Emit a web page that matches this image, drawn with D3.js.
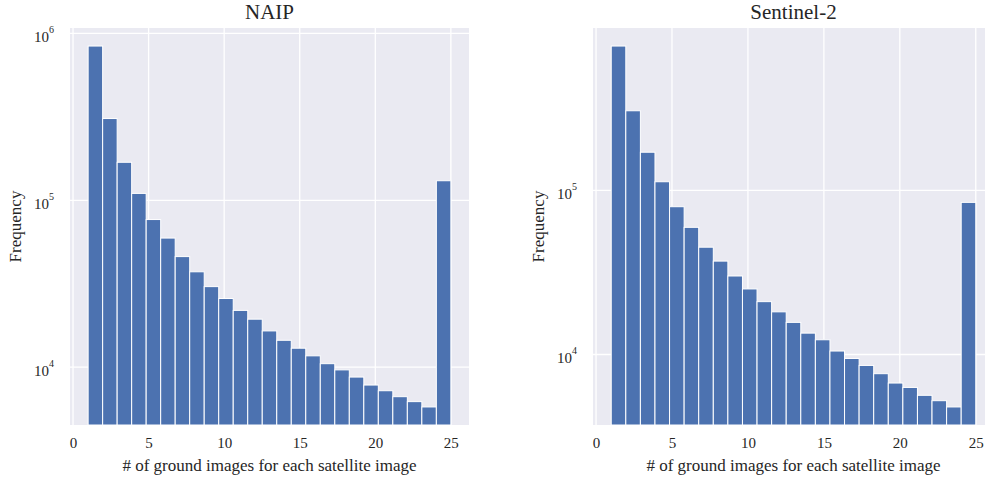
<!DOCTYPE html>
<html>
<head>
<meta charset="utf-8">
<title>Histogram</title>
<script src="https://cdn.jsdelivr.net/npm/d3@7"></script>
<style>
  body { margin: 0; background: #ffffff; }
  svg { display: block; overflow: hidden; }
  text { font-family: "Liberation Serif", "Times New Roman", serif; fill: #262626; }
</style>
</head>
<body>
<script>
// histogram values (25 bins over 1..25)
var groundImages = [1, 2, 3, 4, 5, 6, 7, 8, 9, 10, 11, 12, 13, 14, 15, 16, 17, 18, 19, 20, 21, 22, 23, 24, 25];
var naipCounts = [840000, 309000, 169000, 110000, 76700, 59400, 46000, 37300, 30400, 25800,
                  21900, 19400, 16500, 14500, 13000, 11700, 10500, 9640, 8730, 7820,
                  7230, 6660, 6220, 5780, 131000];
var sentinelCounts = [759000, 306000, 171000, 113000, 79600, 59600, 45100, 37100, 30100, 25100,
                      21000, 18200, 15700, 13500, 12300, 10500, 9460, 8580, 7640, 6700,
                      6300, 5640, 5230, 4790, 84600];
var xTicks = [0, 5, 10, 15, 20, 25];
var yTicks = [1e4, 1e5, 1e6];
var panelTitles = ["NAIP", "Sentinel-2"];

var w = 985;
var h = 478;
var nBins = 25;
var serif = "'Liberation Serif', 'Times New Roman', serif";

var panels = [
  {left: 70, right: 469, top: 28, bottom: 425, counts: naipCounts, title: panelTitles[0]},
  {left: 593, right: 994, top: 28, bottom: 425, counts: sentinelCounts, title: panelTitles[1]}
];

window.onload = function() {
  var svg = d3.select("body")
              .append("svg")
              .attr("width", w)
              .attr("height", h);

  panels.forEach(function(p) {
    drawPanel(svg, p);
  });
};

function drawPanel(svg, p) {
  // bins from min to max value, like a matplotlib hist with bins=25
  var lo = d3.min(groundImages);
  var hi = d3.max(groundImages);
  var binWidth = (hi - lo) / nBins;
  var bins = groundImages.map(function(v, i) {
    return {x0: lo + i * binWidth, x1: lo + (i + 1) * binWidth, count: p.counts[i]};
  });

  // x scale with 5% margins
  var xPad = (hi - lo) * 0.05;
  var x = d3.scaleLinear()
            .domain([lo - xPad, hi + xPad])
            .range([p.left, p.right]);

  // log y scale with 5% margins in log space
  var lmin = Math.log10(d3.min(p.counts));
  var lmax = Math.log10(d3.max(p.counts));
  var yPad = (lmax - lmin) * 0.05;
  var y = d3.scaleLog()
            .domain([Math.pow(10, lmin - yPad), Math.pow(10, lmax + yPad)])
            .range([p.bottom, p.top]);

  var ticksY = yTicks.filter(function(t) {
    return t >= y.domain()[0] && t <= y.domain()[1];
  });

  // plot background
  svg.append("rect")
     .attr("x", p.left)
     .attr("y", p.top)
     .attr("width", p.right - p.left)
     .attr("height", p.bottom - p.top)
     .attr("fill", "#eaeaf2");

  // grid lines
  svg.append("g")
     .selectAll("line")
     .data(xTicks)
     .enter()
     .append("line")
     .attr("x1", function(d) { return x(d); })
     .attr("x2", function(d) { return x(d); })
     .attr("y1", p.top)
     .attr("y2", p.bottom)
     .attr("stroke", "#ffffff")
     .attr("stroke-width", 1.3);

  svg.append("g")
     .selectAll("line")
     .data(ticksY)
     .enter()
     .append("line")
     .attr("x1", p.left)
     .attr("x2", p.right)
     .attr("y1", function(d) { return y(d); })
     .attr("y2", function(d) { return y(d); })
     .attr("stroke", "#ffffff")
     .attr("stroke-width", 1.3);

  // bars
  svg.append("g")
     .selectAll("rect")
     .data(bins)
     .enter()
     .append("rect")
     .attr("x", function(d) { return x(d.x0); })
     .attr("y", function(d) { return y(d.count); })
     .attr("width", function(d) { return x(d.x1) - x(d.x0); })
     .attr("height", function(d) { return p.bottom - y(d.count); })
     .attr("fill", "#4c72b0")
     .attr("stroke", "#ffffff")
     .attr("stroke-width", 1);

  // x axis
  var xAxis = svg.append("g")
     .attr("transform", "translate(0," + p.bottom + ")")
     .attr("font-family", serif)
     .attr("font-size", 15)
     .call(d3.axisBottom(x).tickValues(xTicks).tickSize(0).tickPadding(12));
  xAxis.select(".domain").remove();
  xAxis.selectAll("text")
       .attr("fill", "#262626")
       .attr("font-family", serif)
       .attr("font-size", 15);

  // y axis, labels as 10 with a superscript
  var yAxis = svg.append("g")
     .attr("transform", "translate(" + p.left + ",0)")
     .attr("font-family", serif)
     .attr("font-size", 15)
     .call(d3.axisLeft(y).tickValues(ticksY).tickSize(0).tickPadding(16).tickFormat(""));
  yAxis.select(".domain").remove();
  yAxis.selectAll(".tick text")
       .attr("fill", "#262626")
       .attr("dy", "8.3px")
       .attr("font-family", serif)
       .attr("font-size", 15)
       .each(function(d) {
         var t = d3.select(this);
         t.append("tspan").text("10");
         t.append("tspan")
          .attr("dy", -9.4)
          .attr("font-size", 10)
          .text(Math.round(Math.log10(d)));
       });

  // titles and labels
  var cx = (p.left + p.right) / 2;
  svg.append("text")
     .attr("x", cx)
     .attr("y", 18.5)
     .attr("text-anchor", "middle")
     .attr("font-size", 21)
     .text(p.title);

  svg.append("text")
     .attr("x", cx)
     .attr("y", 471)
     .attr("text-anchor", "middle")
     .attr("font-size", 17)
     .text("# of ground images for each satellite image");

  svg.append("text")
     .attr("transform", "translate(" + (p.left - 49) + "," + ((p.top + p.bottom) / 2) + ") rotate(-90)")
     .attr("text-anchor", "middle")
     .attr("font-size", 17)
     .text("Frequency");
}
</script>
</body>
</html>
